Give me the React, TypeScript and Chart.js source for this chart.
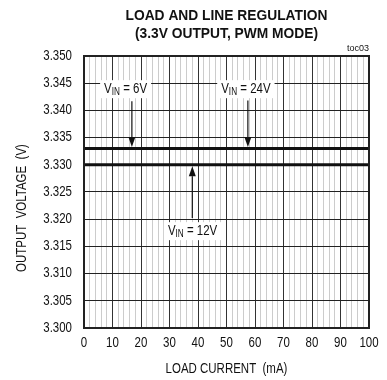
import React, { useEffect, useRef } from "react";
import { Chart, registerables } from "chart.js";

Chart.register(...registerables);

// ---- data ----
const loadCurrent = [0, 20, 40, 60, 80, 100];
const voutVin6And24 = [3.333, 3.333, 3.333, 3.333, 3.333, 3.333];
const voutVin12 = [3.33, 3.33, 3.33, 3.33, 3.33, 3.33];
const xMin = 0;
const xMax = 100;
const xMajorStep = 10;
const xMinorStep = 2;
const yMin = 3.3;
const yMax = 3.35;
const yStep = 0.005;

const titleLines = ["LOAD AND LINE REGULATION", "(3.3V OUTPUT, PWM MODE)"];
const tocLabel = "toc03";
const xTitle = "LOAD CURRENT  (mA)";
const yTitle = "OUTPUT  VOLTAGE  (V)";

// annotations (data coordinates)
const annVin = ["6V", "24V", "12V"];
const annLabelX = [14.6, 56.8, 38.1];
const annLabelY = [3.3439, 3.3439, 3.3178];
const annArrowX = [16.8, 57.5, 38.0];
const annArrowFromY = [3.3417, 3.3418, 3.3202];
const annArrowToY = [3.333, 3.333, 3.33];

const FONT = '"Liberation Sans", Arial, sans-serif';
const NARROW = 0.82;

function drawText(
  ctx: CanvasRenderingContext2D,
  s: string,
  x: number,
  y: number,
  font: string,
  sx: number,
  align: CanvasTextAlign,
  rot = 0
) {
  ctx.save();
  ctx.font = font;
  ctx.textAlign = align;
  ctx.textBaseline = "middle";
  ctx.translate(x, y);
  if (rot) ctx.rotate(rot);
  ctx.scale(sx, 1);
  ctx.fillText(s, 0, 0);
  ctx.restore();
}

const isMajor = (v: number) => Math.abs(v - Math.round(v / xMajorStep) * xMajorStep) < 1e-6;

const decorPlugin = {
  id: "decor",
  afterDatasetsDraw(chart: any) {
    const { ctx, chartArea, scales } = chart;
    const xs = scales.x;
    const ys = scales.y;
    ctx.save();
    // frame
    ctx.strokeStyle = "#222";
    ctx.lineWidth = 2;
    ctx.strokeRect(chartArea.left, chartArea.top, chartArea.right - chartArea.left, chartArea.bottom - chartArea.top);

    // annotations
    for (let i = 0; i < annVin.length; i++) {
      const cx = xs.getPixelForValue(annLabelX[i]);
      const cy = ys.getPixelForValue(annLabelY[i]);
      const mainFont = `14px ${FONT}`;
      const subFont = `10px ${FONT}`;
      ctx.font = mainFont;
      const wV = ctx.measureText("V").width * NARROW;
      const wRest = ctx.measureText(" = " + annVin[i]).width * NARROW;
      ctx.font = subFont;
      const wSub = ctx.measureText("IN").width * NARROW;
      const total = wV + wSub + wRest;
      ctx.fillStyle = "#fff";
      ctx.fillRect(cx - total / 2 - 4, cy - 9, total + 8, 18);
      ctx.fillStyle = "#111";
      let x = cx - total / 2;
      drawText(ctx, "V", x, cy, mainFont, NARROW, "left");
      x += wV;
      drawText(ctx, "IN", x, cy + 3.5, subFont, NARROW, "left");
      x += wSub;
      drawText(ctx, " = " + annVin[i], x, cy, mainFont, NARROW, "left");

      // arrow
      const ax = xs.getPixelForValue(annArrowX[i]);
      const y0 = ys.getPixelForValue(annArrowFromY[i]);
      const lineY = ys.getPixelForValue(annArrowToY[i]);
      const down = y0 < lineY;
      const tip = down ? lineY - 1.5 : lineY + 1.5;
      const headLen = 10;
      const base = down ? tip - headLen : tip + headLen;
      ctx.strokeStyle = "#111";
      ctx.lineWidth = 1.2;
      ctx.beginPath();
      ctx.moveTo(ax, y0);
      ctx.lineTo(ax, base);
      ctx.stroke();
      ctx.beginPath();
      ctx.moveTo(ax - 3.5, base);
      ctx.lineTo(ax + 3.5, base);
      ctx.lineTo(ax, tip);
      ctx.closePath();
      ctx.fill();
    }
    ctx.restore();
  },
  afterDraw(chart: any) {
    const { ctx, chartArea, scales } = chart;
    const xs = scales.x;
    const ys = scales.y;
    const cxMid = (chartArea.left + chartArea.right) / 2;
    ctx.save();
    ctx.fillStyle = "#111";
    // tick labels
    const tickFont = `14px ${FONT}`;
    ys.ticks.forEach((t: any) => {
      drawText(ctx, Number(t.value).toFixed(3), chartArea.left - 12, ys.getPixelForValue(t.value), tickFont, NARROW, "right");
    });
    xs.ticks.forEach((t: any) => {
      if (!isMajor(t.value)) return;
      drawText(ctx, String(Math.round(t.value)), xs.getPixelForValue(t.value), chartArea.bottom + 15, tickFont, NARROW, "center");
    });
    // titles
    drawText(ctx, titleLines[0], cxMid, 16, `bold 14px ${FONT}`, 0.985, "center");
    drawText(ctx, titleLines[1], cxMid, 34, `bold 14px ${FONT}`, 0.985, "center");
    drawText(ctx, tocLabel, chartArea.right, 49, `9px ${FONT}`, 1, "right");
    drawText(ctx, xTitle, cxMid, 369, `14px ${FONT}`, NARROW, "center");
    drawText(ctx, yTitle, 22, 208, `14px ${FONT}`, NARROW, "center", -Math.PI / 2);
    ctx.restore();
  },
};

export default function App() {
  const ref = useRef<HTMLCanvasElement | null>(null);
  useEffect(() => {
    if (!ref.current) return;
    const chart = new Chart(ref.current, {
      type: "line",
      data: {
        datasets: [
          {
            label: "VIN = 6V / 24V",
            data: loadCurrent.map((x, i) => ({ x, y: voutVin6And24[i] })),
            borderColor: "#111",
            borderWidth: 3,
            pointRadius: 0,
            tension: 0,
          },
          {
            label: "VIN = 12V",
            data: loadCurrent.map((x, i) => ({ x, y: voutVin12[i] })),
            borderColor: "#111",
            borderWidth: 3,
            pointRadius: 0,
            tension: 0,
          },
        ],
      },
      options: {
        responsive: false,
        animation: false,
        devicePixelRatio: 1,
        layout: { padding: { left: 0, right: 18, top: 56, bottom: 0 } },
        plugins: {
          legend: { display: false },
          tooltip: { enabled: false },
          title: { display: false },
        },
        scales: {
          x: {
            type: "linear",
            min: xMin,
            max: xMax,
            afterFit: (s: any) => {
              s.height = 52;
            },
            ticks: {
              display: false,
              stepSize: xMinorStep,
              autoSkip: false,
              maxRotation: 0,
            },
            grid: {
              color: (c: any) => (c.tick && isMajor(c.tick.value) ? "#333" : "#cccccc"),
              lineWidth: 1,
              drawTicks: false,
            },
            border: { display: true, color: "#222", width: 2 },
          },
          y: {
            type: "linear",
            min: yMin,
            max: yMax,
            afterFit: (s: any) => {
              s.width = 84;
            },
            ticks: {
              display: false,
              stepSize: yStep,
            },
            grid: { color: "#222", lineWidth: 1, drawTicks: false },
            border: { display: true, color: "#222", width: 2 },
          },
        },
      },
      plugins: [decorPlugin],
    } as any);
    return () => chart.destroy();
  }, []);
  return (
    <div style={{ position: "absolute", left: 0, top: 0, width: 387, height: 380, background: "#fff" }}>
      <canvas ref={ref} width={387} height={380} style={{ display: "block" }} />
    </div>
  );
}
